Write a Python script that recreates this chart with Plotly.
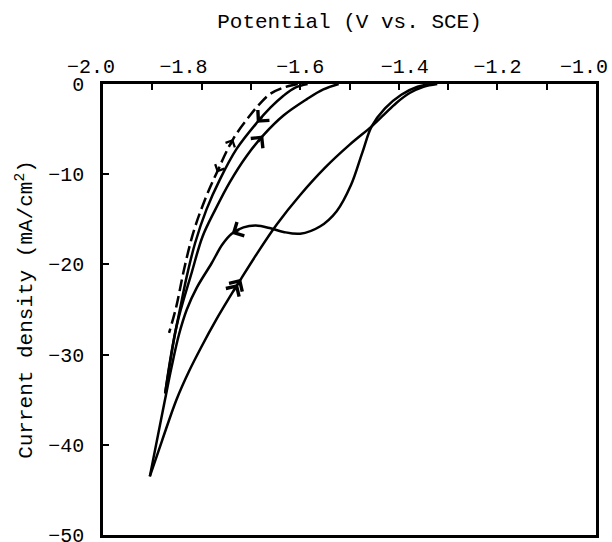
import math
import plotly.graph_objects as go

# ---- data (potential in V vs. SCE, current density in mA/cm^2) ----
# dashed sweep (top -> bottom)
dash_x = [-1.605, -1.634, -1.661, -1.682, -1.702, -1.736, -1.769, -1.793, -1.817, -1.837, -1.851, -1.866]
dash_y = [0.0, -0.4, -1.1, -2.2, -3.5, -6.1, -9.8, -12.8, -16.5, -20.9, -24.6, -27.6]

# first cycle, cathodic branch (top -> turning point)
a_x = [-1.585, -1.610, -1.634, -1.660, -1.688, -1.729, -1.763, -1.790, -1.813, -1.830, -1.844, -1.855, -1.874]
a_y = [0.0, -0.4, -1.3, -2.6, -4.3, -7.2, -10.6, -13.9, -17.6, -21.3, -25.0, -28.0, -34.3]

# first cycle, anodic branch (turning point -> top)
b_x = [-1.874, -1.851, -1.820, -1.798, -1.772, -1.743, -1.709, -1.675, -1.634, -1.587, -1.553, -1.522]
b_y = [-34.3, -26.9, -20.9, -16.9, -13.9, -10.9, -8.0, -5.7, -3.5, -1.7, -0.6, 0.0]

# second cycle, cathodic branch (top -> turning point)
c_x = [-1.330, -1.362, -1.395, -1.428, -1.455, -1.474, -1.497, -1.526, -1.560, -1.600, -1.634, -1.660,
       -1.690, -1.715, -1.739, -1.758, -1.780, -1.810, -1.830, -1.846, -1.861, -1.875, -1.905]
c_y = [0.0, -0.3, -1.2, -2.7, -4.7, -7.6, -11.2, -14.1, -15.8, -16.6, -16.4, -16.0,
       -15.7, -15.9, -16.6, -17.8, -19.9, -22.6, -25.0, -27.8, -31.4, -35.2, -43.5]

# second cycle, anodic branch (turning point -> top)
d_x = [-1.905, -1.880, -1.851, -1.826, -1.800, -1.770, -1.745, -1.720, -1.690, -1.648, -1.600,
       -1.550, -1.499, -1.455, -1.430, -1.405, -1.378, -1.350, -1.322]
d_y = [-43.5, -39.5, -35.0, -31.9, -29.1, -26.1, -23.8, -21.6, -19.0, -15.6, -12.3,
       -9.3, -6.7, -4.7, -3.4, -2.1, -1.0, -0.3, 0.0]

x_ticks = [-2.0, -1.8, -1.6, -1.4, -1.2, -1.0]
x_tick_labels = ["-2.0", "-1.8", "-1.6", "-1.4", "-1.2", "-1.0"]
y_ticks = [0, -10, -20, -30, -40, -50]
y_tick_labels = ["0", "-10", "-20", "-30", "-40", "-50"]

# typewriter placement of the top labels (padding in character cells: leading, trailing)
x_label_pad = [(0, 2), (0, 3), (0, 0), (1, 0), (0, 0), (0, 2)]

FONT = "Liberation Mono"
LW = 2.5
W, H = 612, 542
M = dict(l=103, r=16, t=84, b=7)
XR, YR = (-2.0, -1.0), (-50, 0)
PX_PER_X = (W - M["l"] - M["r"]) / (XR[1] - XR[0])
PX_PER_Y = (H - M["t"] - M["b"]) / (YR[1] - YR[0])

NB = "\u00a0"
MINUS = "\u2212"

fig = go.Figure()

def add_branch(xs, ys, dash="solid"):
    fig.add_trace(go.Scatter(x=xs, y=ys, mode="lines",
                             line=dict(color="black", width=LW, dash=dash, shape="spline", smoothing=1.0),
                             showlegend=False, hoverinfo="skip"))

add_branch(dash_x, dash_y, dash="12px,5px")
add_branch(a_x, a_y)
add_branch(b_x, b_y)
add_branch(c_x, c_y)
add_branch(d_x, d_y)

def add_arrow(xs, ys, i, back=-1, shaft=10.0, size=1.2, width=LW, shift_px=0.0):
    # chevron at vertex i, pointing away from vertex i+back (direction taken in screen pixels)
    j = i + back
    dxp = (xs[j] - xs[i]) * PX_PER_X
    dyp = (ys[j] - ys[i]) * PX_PER_Y
    n = math.hypot(dxp, dyp)
    ux, uy = dxp / n, dyp / n
    tx = xs[i] + ux * shift_px / PX_PER_X
    ty = ys[i] + uy * shift_px / PX_PER_Y
    ax = tx + ux * shaft / PX_PER_X
    ay = ty + uy * shaft / PX_PER_Y
    fig.add_annotation(x=tx, y=ty, ax=ax, ay=ay, xref="x", yref="y", axref="x", ayref="y",
                       text="", showarrow=True, arrowhead=4, arrowsize=size, arrowwidth=width,
                       arrowcolor="black")

add_arrow(a_x, a_y, 4)                 # cathodic sweep, first cycle
add_arrow(b_x, b_y, 7)                 # anodic sweep, first cycle
add_arrow(c_x, c_y, 14)                # cathodic sweep, second cycle
add_arrow(d_x, d_y, 7)                 # anodic sweep, second cycle (double chevron)
add_arrow(d_x, d_y, 7, shift_px=6)
add_arrow(dash_x, dash_y, 5, back=1, size=1.0, width=2, shaft=8)   # dashed, up
add_arrow(dash_x, dash_y, 6, back=-1, size=1.0, width=2, shaft=8)  # dashed, down

axis_common = dict(showline=True, linecolor="black", linewidth=2.5, mirror=True,
                   showgrid=False, zeroline=False, ticks="inside", tickcolor="black",
                   tickwidth=2, ticklen=6, ticklabeloverflow="allow", automargin=False,
                   tickfont=dict(family=FONT, size=20, color="black"))

x_text = [NB * p[0] + s.replace("-", MINUS) + NB * p[1] for s, p in zip(x_tick_labels, x_label_pad)]

fig.update_xaxes(range=list(XR), side="top", tickvals=x_ticks, ticktext=x_text,
                 minor=dict(dtick=0.1, tick0=-2.0, ticks="inside", ticklen=6, tickwidth=2, tickcolor="black"),
                 title=dict(text="Potential (V vs. SCE)", font=dict(family=FONT, size=21, color="black"),
                            standoff=22),
                 **axis_common)
fig.update_yaxes(range=list(YR), tickvals=y_ticks,
                 ticktext=[s.replace("-", MINUS) for s in y_tick_labels],
                 ticklabelstandoff=12,
                 title=dict(text="Current density (mA/cm<sup>2</sup>)",
                            font=dict(family=FONT, size=21, color="black"), standoff=10),
                 **axis_common)

fig.update_layout(width=W, height=H, margin=M,
                  paper_bgcolor="white", plot_bgcolor="white",
                  font=dict(family=FONT, size=20, color="black"))

fig.write_html("out.html", config={"displayModeBar": False},
               post_script="document.body.style.margin='0';document.body.style.overflow='hidden';"
                           "document.documentElement.style.overflow='hidden';")
